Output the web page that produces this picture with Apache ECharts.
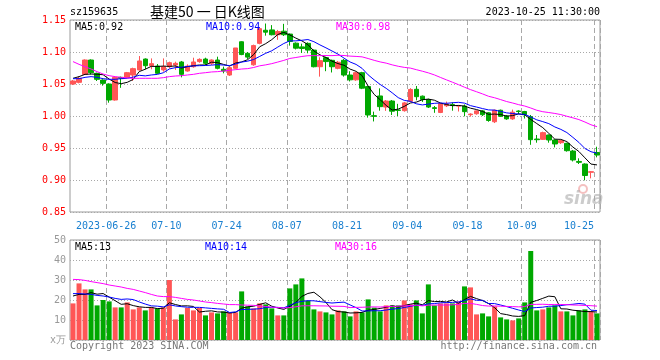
<!DOCTYPE html>
<html>
<head>
<meta charset="utf-8">
<script src="https://cdn.jsdelivr.net/npm/echarts@6/dist/echarts.min.js"></script>
<style>html,body{margin:0;padding:0;background:#fff;}#c{width:660px;height:360px;}</style>
</head>
<body>
<div id="c"></div>
<script>
// ---- data ----
const dates = ['06-14','06-15','06-16','06-19','06-20','06-21','06-26','06-27','06-28','06-29','06-30',
'07-03','07-04','07-05','07-06','07-07','07-10','07-11','07-12','07-13','07-14','07-17','07-18','07-19','07-20','07-21','07-24','07-25','07-26','07-27','07-28','07-31',
'08-01','08-02','08-03','08-04','08-07','08-08','08-09','08-10','08-11','08-14','08-15','08-16','08-17','08-18','08-21','08-22','08-23','08-24','08-25','08-28','08-29','08-30','08-31',
'09-01','09-04','09-05','09-06','09-07','09-08','09-11','09-12','09-13','09-14','09-15','09-18','09-19','09-20','09-21','09-22','09-25','09-26','09-27','09-28',
'10-09','10-10','10-11','10-12','10-13','10-16','10-17','10-18','10-19','10-20','10-23','10-24','10-25'];
const tickDates = ['06-26','07-10','07-24','08-07','08-21','09-04','09-18','10-09','10-25'];
const yearLabel = '2023';

const opens = [1.0500,1.0526,1.0650,1.0875,1.0667,1.0562,1.0500,1.0250,1.0604,1.0604,
1.0640,1.0720,1.0890,1.0786,1.0780,1.0720,1.0770,1.0797,1.0844,1.0703,
1.0770,1.0850,1.0890,1.0823,1.0875,1.0730,1.0640,1.0745,1.1160,1.0980,
1.0800,1.1135,1.1340,1.1345,1.1270,1.1325,1.1280,1.1138,1.1080,1.1135,
1.1030,1.0770,1.0912,1.0870,1.0745,1.0870,1.0640,1.0565,1.0677,1.0460,
1.0005,1.0313,1.0140,1.0234,1.0094,1.0083,1.0230,1.0417,1.0310,1.0258,
1.0130,1.0055,1.0160,1.0178,1.0155,1.0155,1.0020,1.0035,1.0080,1.0050,
0.9910,1.0090,1.0000,0.9955,1.0078,1.0070,0.9990,0.9640,0.9635,0.9703,
0.9625,0.9583,0.9573,0.9453,0.9290,0.9250,0.9120,0.9430];
const closes = [1.0547,1.0589,1.0875,1.0677,1.0573,1.0510,1.0250,1.0604,1.0590,1.0677,
1.0740,1.0860,1.0786,1.0818,1.0667,1.0770,1.0833,1.0823,1.0651,1.0780,
1.0844,1.0885,1.0823,1.0875,1.0745,1.0703,1.0755,1.1063,1.0960,1.0920,
1.1100,1.1365,1.1310,1.1270,1.1320,1.1270,1.1165,1.1060,1.1055,1.1030,
1.0770,1.0865,1.0850,1.0770,1.0840,1.0640,1.0565,1.0677,1.0435,1.0016,
0.9995,1.0146,1.0234,1.0075,1.0088,1.0205,1.0415,1.0302,1.0258,1.0140,
1.0118,1.0195,1.0185,1.0165,1.0160,1.0068,1.0030,1.0080,1.0020,0.9930,
1.0090,0.9995,0.9955,1.0060,1.0070,1.0020,0.9630,0.9630,0.9740,0.9625,
0.9563,0.9615,0.9458,0.9313,0.9276,0.9070,0.9130,0.9390];
const lows = [1.0484,1.0510,1.0640,1.0650,1.0547,1.0474,1.0208,1.0240,1.0440,1.0590,
1.0550,1.0710,1.0730,1.0730,1.0656,1.0693,1.0745,1.0720,1.0604,1.0693,
1.0755,1.0833,1.0797,1.0797,1.0729,1.0667,1.0625,1.0730,1.0950,1.0890,
1.0785,1.1120,1.1255,1.1260,1.1190,1.1250,1.1100,1.1040,1.0985,1.0980,
1.0760,1.0615,1.0700,1.0680,1.0730,1.0615,1.0540,1.0550,1.0420,0.9975,
0.9915,1.0083,1.0080,1.0016,1.0000,1.0068,1.0220,1.0245,1.0220,1.0125,
1.0050,1.0045,1.0140,1.0083,1.0070,0.9995,0.9990,1.0020,1.0000,0.9910,
0.9890,0.9985,0.9940,0.9940,1.0030,0.9960,0.9550,0.9583,0.9625,0.9583,
0.9510,0.9563,0.9443,0.9290,0.9250,0.8995,0.9026,0.9354];
const highs = [1.0563,1.0615,1.0885,1.0885,1.0677,1.0573,1.0510,1.0615,1.0615,1.0688,
1.0755,1.0937,1.0900,1.0900,1.0812,1.0900,1.0849,1.0849,1.0860,1.0807,
1.0911,1.0901,1.0911,1.0885,1.0927,1.0771,1.0771,1.1063,1.1167,1.1000,
1.1115,1.1385,1.1445,1.1420,1.1345,1.1440,1.1290,1.1150,1.1130,1.1150,
1.1040,1.0917,1.0925,1.0880,1.0860,1.0890,1.0700,1.0690,1.0690,1.0470,
1.0068,1.0432,1.0250,1.0250,1.0190,1.0220,1.0435,1.0469,1.0320,1.0270,
1.0156,1.0200,1.0225,1.0215,1.0170,1.0180,1.0042,1.0090,1.0095,1.0060,
1.0100,1.0100,1.0016,1.0100,1.0090,1.0080,1.0016,0.9703,0.9755,0.9710,
0.9635,0.9625,0.9583,0.9470,0.9339,0.9260,0.9140,0.9520];
const volumes = [18.3,28.3,25.3,25.3,17.3,20.0,19.3,16.3,16.3,18.8,
15.3,16.3,14.8,16.3,15.8,16.3,30.0,10.3,12.8,16.0,
14.8,16.0,12.3,13.8,13.3,14.3,13.8,13.8,24.3,16.8,
15.8,18.3,17.8,15.8,12.3,12.3,25.8,27.8,30.8,19.7,
15.3,14.3,13.8,12.8,14.8,14.3,11.8,14.3,13.8,20.3,
16.2,14.3,17.3,17.3,17.3,19.8,17.8,19.8,13.3,27.8,
17.3,18.3,18.3,18.3,19.3,26.8,26.3,12.8,13.3,11.8,
16.8,11.3,10.3,9.8,10.8,18.8,44.5,14.8,15.3,16.3,
17.3,14.3,14.3,12.3,14.8,15.3,14.3,13.3];

// moving-average values at the left edge (window starts before the visible range)
const ma5Head = [1.0589,1.0615,1.0651,1.0656];
const ma10Head = [1.0583,1.0583,1.0604,1.0615,1.0604,1.0583,1.0573,1.0573,1.0583];
const ma30Head = [1.0850,1.0807,1.0770,1.0734,1.0693,1.0656,1.0630,1.0615,1.0604,1.0594,
1.0589,1.0589,1.0589,1.0589,1.0589,1.0599,1.0615,1.0625,1.0630,1.0641,
1.0651,1.0667,1.0677,1.0688,1.0693,1.0703,1.0714,1.0724,1.0734];
const vma5Head = [22.0,22.8,22.8,23.7];
const vma10Head = [23.2,23.2,23.0,22.8,22.3,22.0,21.5,20.8,20.3];
const vma30Head = [30.3,30.2,29.8,29.2,28.7,28.2,27.5,27.0,26.5,25.8,
25.3,24.5,23.7,22.8,22.0,21.7,21.7,21.3,20.8,20.3,
20.0,19.5,19.0,18.7,18.3,18.0,17.7,17.7,17.5];

const headerCode = 'sz159635';
const headerTitle = '基建50 一 日K线图';
const headerTime = '2023-10-25 11:30:00';
const priceMaLabels = ['MA5:0.92','MA10:0.94','MA30:0.98'];
const volMaLabels = ['MA5:13','MA10:14','MA30:16'];
const footLeft = 'Copyright 2023 SINA.COM';
const footRight = 'http://finance.sina.com.cn';

// ---- build ----
function movingAverage(vals, n, head) {
  return vals.map((v, i) => {
    if (i < n - 1) return head[i];
    let s = 0;
    for (let k = i - n + 1; k <= i; k++) s += vals[k];
    return +(s / n).toFixed(4);
  });
}
const UP = '#ff5656', DOWN = '#00a800';
const MONO = '"DejaVu Sans Mono", "Liberation Mono", monospace';
const kData = dates.map((d, i) => [opens[i], closes[i], lows[i], highs[i]]);
const volData = volumes.map((v, i) => ({ value: v, itemStyle: { color: closes[i] >= opens[i] ? UP : DOWN } }));
const isTick = (idx, val) => tickDates.indexOf(val) >= 0;
const gridLineV = { show: true, interval: isTick, lineStyle: { color: '#a8a8a8', width: 1, type: [5, 3] } };

function maLine(name, data, color, xi) {
  return { name, type: 'line', data, xAxisIndex: xi, yAxisIndex: xi, symbol: 'none', silent: true,
    lineStyle: { color, width: 1 }, itemStyle: { color } };
}
function txt(x, y, text, fill, font, align) {
  return { type: 'text', x, y, silent: true, z: 100,
    style: { text, fill, font, align: align || 'left', verticalAlign: 'middle' } };
}

const chart = echarts.init(document.getElementById('c'), null, { renderer: 'canvas' });
chart.setOption({
  animation: false,
  backgroundColor: '#ffffff',
  grid: [
    { left: 70, top: 20, width: 530, height: 192, show: true, borderColor: '#9a9a9a', borderWidth: 1 },
    { left: 70, top: 240, width: 530, height: 100, show: true, borderColor: '#9a9a9a', borderWidth: 1 }
  ],
  xAxis: [
    { type: 'category', gridIndex: 0, data: dates, boundaryGap: true,
      axisLine: { show: false }, axisTick: { show: false },
      axisLabel: { interval: isTick, color: '#1a80d0', fontFamily: MONO, fontSize: 10, margin: 9,
        padding: [0, 6, 0, 0],
        formatter: (v, idx) => v === tickDates[0] ? yearLabel + '-' + v : (v === tickDates[tickDates.length - 1] ? v + '     ' : v) },
      splitLine: gridLineV },
    { type: 'category', gridIndex: 1, data: dates, boundaryGap: true,
      axisLine: { show: false }, axisTick: { show: false }, axisLabel: { show: false },
      splitLine: gridLineV }
  ],
  yAxis: [
    { type: 'value', gridIndex: 0, min: 0.85, max: 1.15, interval: 0.05, scale: true,
      axisLine: { show: false }, axisTick: { show: false },
      axisLabel: { color: '#ff0000', fontFamily: MONO, fontSize: 10, margin: 4, formatter: v => v.toFixed(2) },
      splitLine: { show: true, lineStyle: { color: '#a8a8a8', width: 1, type: [1, 2] } } },
    { type: 'value', gridIndex: 1, min: 0, max: 50, interval: 10,
      axisLine: { show: false }, axisTick: { show: false },
      axisLabel: { color: '#999999', fontFamily: MONO, fontSize: 10, margin: 4,
        formatter: v => v === 0 ? 'x万' : String(v) },
      splitLine: { show: true, lineStyle: { color: '#a8a8a8', width: 1, type: [1, 2] } } }
  ],
  series: [
    { type: 'candlestick', xAxisIndex: 0, yAxisIndex: 0, data: kData, barWidth: 5, silent: true,
      itemStyle: { color: UP, color0: DOWN, borderColor: UP, borderColor0: DOWN, borderWidth: 1 } },
    maLine('MA5', movingAverage(closes, 5, ma5Head), '#000000', 0),
    maLine('MA10', movingAverage(closes, 10, ma10Head), '#0000ff', 0),
    maLine('MA30', movingAverage(closes, 30, ma30Head), '#ff00ff', 0),
    { type: 'bar', xAxisIndex: 1, yAxisIndex: 1, data: volData, barWidth: 5, silent: true },
    maLine('VMA5', movingAverage(volumes, 5, vma5Head), '#000000', 1),
    maLine('VMA10', movingAverage(volumes, 10, vma10Head), '#0000ff', 1),
    maLine('VMA30', movingAverage(volumes, 30, vma30Head), '#ff00ff', 1)
  ],
  graphic: [
    txt(70, 12, headerCode, '#000', '10px ' + MONO),
    txt(150, 12, headerTitle, '#000', '14px "Noto Sans CJK SC", sans-serif'),
    txt(600, 12, headerTime, '#000', '10px ' + MONO, 'right'),
    txt(75, 27, priceMaLabels[0], '#000000', '10px ' + MONO),
    txt(206, 27, priceMaLabels[1], '#0000ff', '10px ' + MONO),
    txt(336, 27, priceMaLabels[2], '#ff00ff', '10px ' + MONO),
    txt(75, 247, volMaLabels[0], '#000000', '10px ' + MONO),
    txt(205, 247, volMaLabels[1], '#0000ff', '10px ' + MONO),
    txt(335, 247, volMaLabels[2], '#ff00ff', '10px ' + MONO),
    txt(70, 346, footLeft, '#777777', '10px ' + MONO),
    txt(597, 346, footRight, '#777777', '10px ' + MONO, 'right'),
    { type: 'circle', silent: true, z: 1, shape: { cx: 583, cy: 189, r: 4 },
      style: { fill: 'none', stroke: 'rgba(235,140,140,0.55)', lineWidth: 2 } },
    txt(564, 200, 'sina', 'rgba(170,170,170,0.6)', 'italic bold 17px "DejaVu Sans", sans-serif')
  ]
});
</script>
</body>
</html>
